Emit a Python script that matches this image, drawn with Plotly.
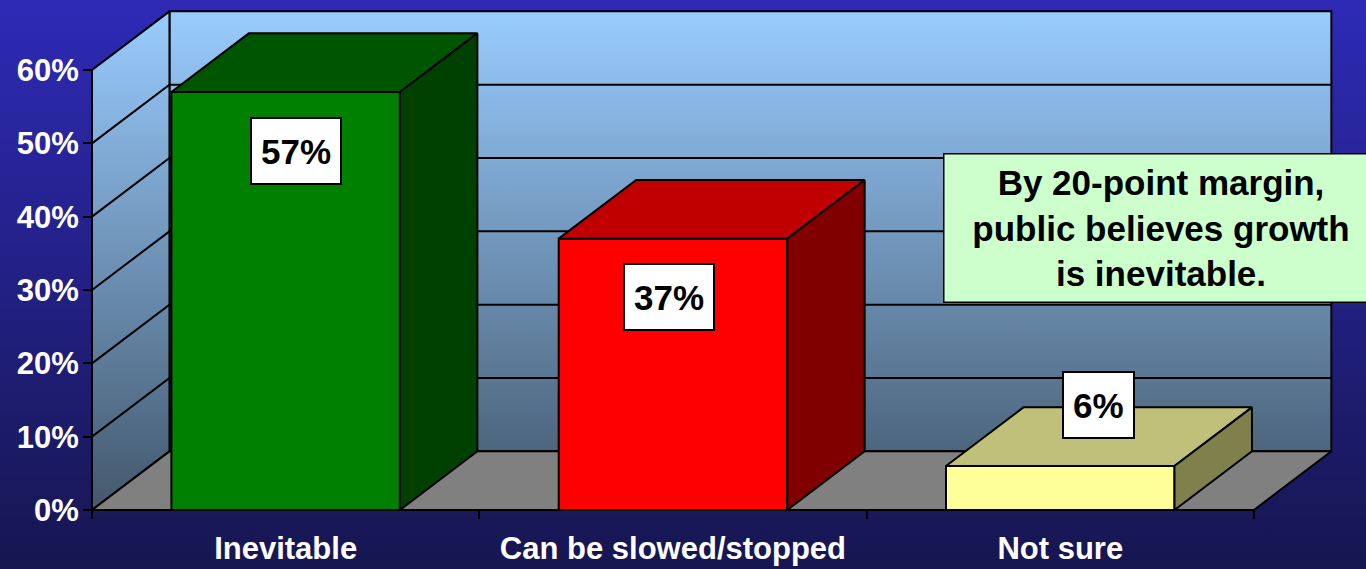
import plotly.graph_objects as go

# ---------------- data ----------------
categories = ["Inevitable", "Can be slowed/stopped", "Not sure"]
values = [57, 37, 6]
y_tick_values = [0, 10, 20, 30, 40, 50, 60]
y_tick_labels = ["0%", "10%", "20%", "30%", "40%", "50%", "60%"]
note_lines = ["By 20-point margin,", "public believes growth", "is inevitable."]

# ---------------- style ----------------
front_colors = ["#008000", "#FF0000", "#FFFF99"]
top_colors = ["#005500", "#C00000", "#C0C07A"]
side_colors = ["#004000", "#800000", "#80804D"]
label_xshift = [10, -4, 38]          # px nudges of the value boxes
FONT = "Liberation Sans, Arial, sans-serif"

W, H = 1366, 569
X_PX0, X_UNIT = 92.0, 387.3          # pixel of category boundary 0, px per category
Y_PX0, Y_UNIT = 510.0, 7.3333        # pixel of 0 %, px per percentage point
DX, DY = 0.2, 8.0                    # oblique depth (axis units)
BAR_W = 0.59
Y_TOP = max(y_tick_values)
N = len(categories)

x_range = [-X_PX0 / X_UNIT, (W - X_PX0) / X_UNIT]
y_range = [-(H - Y_PX0) / Y_UNIT, Y_PX0 / Y_UNIT]

fig = go.Figure()


def poly(xs, ys, fill=None, lw=2.0, gradient=None, lc="black"):
    xs = list(xs) + [xs[0]]
    ys = list(ys) + [ys[0]]
    kw = dict(x=xs, y=ys, mode="lines", fill="toself",
              line=dict(color=lc, width=lw), hoverinfo="skip", showlegend=False)
    if gradient is not None:
        kw["fillgradient"] = gradient
        kw["fillcolor"] = "rgba(0,0,0,0)"
    else:
        kw["fillcolor"] = fill
    fig.add_trace(go.Scatter(**kw))


# page background gradient
poly([x_range[0], x_range[1], x_range[1], x_range[0]],
     [y_range[0], y_range[0], y_range[1], y_range[1]], lw=0, lc="rgba(0,0,0,0)",
     gradient=dict(type="vertical", start=y_range[0], stop=y_range[1],
                   colorscale=[[0, "rgb(22,22,80)"], [1, "rgb(46,42,182)"]]))

wall_grad = dict(type="vertical", start=0, stop=Y_TOP + DY,
                 colorscale=[[0, "#43586C"], [1, "#99CCFF"]])
# back wall
poly([DX, N + DX, N + DX, DX], [DY, DY, Y_TOP + DY, Y_TOP + DY], gradient=wall_grad)
# side wall
poly([0, 0, DX, DX], [0, Y_TOP, Y_TOP + DY, DY], gradient=wall_grad)

# gridlines on walls
gx, gy = [], []
for v in y_tick_values[1:-1]:
    gx += [0, DX, N + DX, None]
    gy += [v, v + DY, v + DY, None]
fig.add_trace(go.Scatter(x=gx, y=gy, mode="lines", line=dict(color="black", width=2),
                         hoverinfo="skip", showlegend=False))

# floor
poly([0, N, N + DX, DX], [0, 0, DY, DY], fill="#808080")

# bars
for i, v in enumerate(values):
    x0 = i + 0.5 - BAR_W / 2
    x1 = i + 0.5 + BAR_W / 2
    poly([x0, x1, x1, x0], [0, 0, v, v], fill=front_colors[i])
    poly([x0, x1, x1 + DX, x0 + DX], [v, v, v + DY, v + DY], fill=top_colors[i])
    poly([x1, x1 + DX, x1 + DX, x1], [0, DY, v + DY, v], fill=side_colors[i])

# value labels
for i, v in enumerate(values):
    ly = v - 8 if v >= 15 else v + 8.3
    fig.add_annotation(x=i + 0.5, y=ly, xref="x", yref="y", text=f"<b>{v}%</b>",
                       showarrow=False, xshift=label_xshift[i],
                       font=dict(family=FONT, size=35, color="black"),
                       bgcolor="white", bordercolor="black", borderwidth=2,
                       borderpad=9, height=46, valign="middle")

# note box
fig.add_annotation(x=1161 / W, y=1 - 228 / H, xref="paper", yref="paper",
                   xanchor="center", yanchor="middle",
                   text="<b>" + "<br>".join(note_lines) + "</b>", showarrow=False,
                   font=dict(family=FONT, size=35, color="black"), align="center",
                   bgcolor="#CCFFCC", bordercolor="black", borderwidth=1.5, borderpad=0,
                   width=433, height=147, valign="middle")

fig.update_layout(
    width=W, height=H, margin=dict(l=0, r=0, t=0, b=0, pad=0),
    paper_bgcolor="rgb(30,28,120)", plot_bgcolor="rgba(0,0,0,0)",
    showlegend=False,
    xaxis=dict(range=x_range, domain=[0, 1], anchor="free", position=(H - Y_PX0) / H,
               tickmode="array", tickvals=[i + 0.5 for i in range(N)], ticktext=categories,
               ticks="", showgrid=False, zeroline=False, showline=False,
               tickfont=dict(family=FONT, size=31, color="white", weight="bold"),
               ticklabelstandoff=17,
               minor=dict(tickmode="array", tickvals=list(range(N + 1)), ticks="outside",
                          ticklen=8, tickwidth=2, tickcolor="black", showgrid=False),
               fixedrange=True),
    yaxis=dict(range=y_range, domain=[0, 1], anchor="free", position=X_PX0 / W,
               tickmode="array", tickvals=y_tick_values, ticktext=y_tick_labels,
               ticks="outside", ticklen=9, tickwidth=2, tickcolor="black",
               showgrid=False, zeroline=False, showline=False,
               tickfont=dict(family=FONT, size=31, color="white", weight="bold"),
               ticklabelstandoff=-2, fixedrange=True),
)

fig.write_html("out.html", config={"displayModeBar": False},
               post_script="document.body.style.margin='0px';"
               "document.body.style.overflow='hidden';")
